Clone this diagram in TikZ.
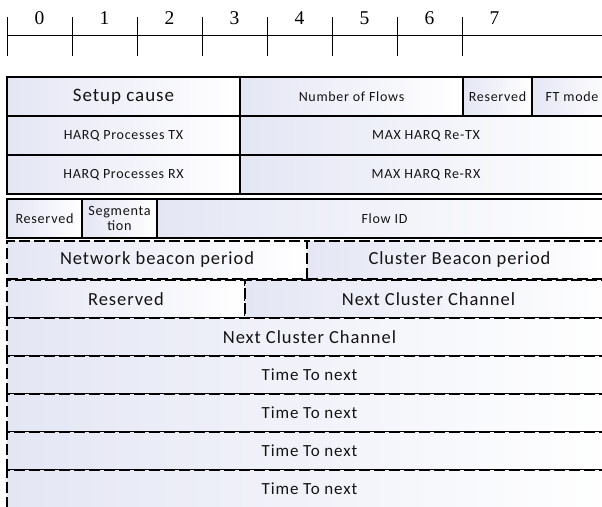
\documentclass[tikz,border=0pt]{standalone}
\usepackage{fontspec}
\newfontfamily\carl[LetterSpace=5]{Carlito}
\newfontfamily\numf{Liberation Serif}
\definecolor{gradc}{RGB}{228,230,244}
\definecolor{txt}{RGB}{20,20,20}
\begin{document}
\begin{tikzpicture}[x=1pt,y=-1pt,
  fld/.style={draw=black, left color=gradc, right color=white, anchor=north west,
    inner sep=0pt, outer sep=0pt, text=txt, align=center,
    font=\carl\fontsize{14}{15}\selectfont},
  solidf/.style={fld, line width=1.6pt},
  thickf/.style={fld, line width=2pt},
  dashf/.style={fld, line width=1.6pt, dash pattern=on 11pt off 4pt,
    font=\carl\fontsize{18.5}{20}\selectfont},
  big/.style={font=\carl\fontsize{19}{21}\selectfont},
  small/.style={font=\carl\fontsize{14.2}{15}\selectfont},
  timef/.style={font=\carl\fontsize{17}{19}\selectfont},
  tick/.style={line width=0.8pt, draw=black},
  num/.style={font=\numf\fontsize{19.5}{21}\selectfont, inner sep=0pt}
]
\clip (0,0) rectangle (602,506);
% ruler
\coordinate (r0) at (7,35);
\coordinate (r1) at (602,35);
\draw[tick] (r0) -- (r1);
\foreach \i in {0,...,7}{
  \coordinate (t\i a) at (7+65*\i,17);
  \coordinate (t\i b) at (7+65*\i,56);
  \draw[tick] (t\i a) -- (t\i b);
  \node[num] (n\i) at (39.5+65*\i,18.5) {\i};
}
% row 1
\node[thickf, big, minimum width=233, minimum height=39] (setup) at (7,77) {Setup cause};
\node[thickf, minimum width=223, minimum height=39] (nflows) at (240,77) {Number of Flows};
\node[thickf, minimum width=69, minimum height=39] (res1) at (463,77) {Reserved};
\node[thickf, minimum width=80, minimum height=39] (ftmode) at (532,77) {FT mode};
% row 2
\node[solidf, minimum width=233, minimum height=39] (harqtx) at (7,116) {HARQ Processes TX};
\node[solidf, minimum width=372, minimum height=39] (maxtx) at (240,116) {MAX HARQ Re-TX};
% row 3
\node[solidf, minimum width=233, minimum height=39] (harqrx) at (7,155) {HARQ Processes RX};
\node[solidf, minimum width=372, minimum height=39] (maxrx) at (240,155) {MAX HARQ Re-RX};
% row 4
\node[solidf, small, minimum width=75, minimum height=39] (res2) at (7,199) {Reserved};
\node[solidf, small, minimum width=75, minimum height=39] (seg) at (82,199) {Segmenta\\tion};
\node[solidf, minimum width=455, minimum height=39] (flowid) at (157,199) {Flow ID};
% row 5
\node[dashf, minimum width=300, minimum height=38] (netb) at (7,241) {Network beacon period};
\node[dashf, minimum width=305, minimum height=38] (clb) at (307,241) {Cluster Beacon period};
% row 6
\node[dashf, minimum width=238, minimum height=38] (res3) at (7,280) {Reserved};
\node[dashf, minimum width=367, minimum height=38] (ncc1) at (245,280) {Next Cluster Channel};
% row 7
\node[dashf, minimum width=605, minimum height=38] (ncc2) at (7,318) {Next Cluster Channel};
% rows 8-11
\node[dashf, timef, minimum width=605, minimum height=38] (tn1) at (7,356) {Time To next};
\node[dashf, timef, minimum width=605, minimum height=38] (tn2) at (7,394) {Time To next};
\node[dashf, timef, minimum width=605, minimum height=38] (tn3) at (7,432) {Time To next};
\node[dashf, timef, minimum width=605, minimum height=38] (tn4) at (7,470) {Time To next};
\end{tikzpicture}
\end{document}
